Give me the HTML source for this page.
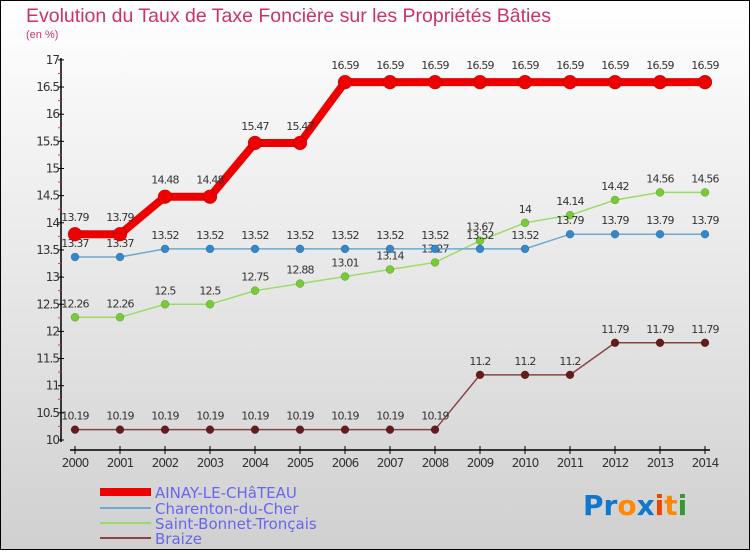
<!DOCTYPE html>
<html><head><meta charset="utf-8"><style>
body{margin:0;width:750px;height:550px;overflow:hidden;font-family:"DejaVu Sans","Liberation Sans",sans-serif}
</style></head><body>
<svg id="c" width="750" height="550" xmlns="http://www.w3.org/2000/svg">
<defs><linearGradient id="bg" x1="0" y1="0" x2="0" y2="1"><stop offset="0" stop-color="#ffffff"/><stop offset="1" stop-color="#d0d0d0"/></linearGradient></defs>
<rect x="0" y="0" width="750" height="550" fill="url(#bg)" stroke="#000" stroke-width="2"/>
<text x="26" y="22" font-size="19.5" fill="#cc3366" font-family="Liberation Sans, sans-serif">Evolution du Taux de Taxe Foncière sur les Propriétés Bâties</text>
<text x="26" y="38" font-size="11" fill="#cc3366" font-family="Liberation Sans, sans-serif">(en %)</text>
<g id="axes"></g><g id="series"></g>
<g font-size="15" fill="#6666ee">
<rect x="100" y="488" width="51" height="8" fill="#ee0000"/>
<text x="155" y="498">AINAY-LE-CHâTEAU</text>
<rect x="100" y="507" width="51" height="2" fill="#6fa8d0"/>
<text x="155" y="514">Charenton-du-Cher</text>
<rect x="100" y="522" width="51" height="2" fill="#99dd66"/>
<text x="155" y="529">Saint-Bonnet-Tronçais</text>
<rect x="100" y="537" width="51" height="2" fill="#884444"/>
<text x="155" y="544">Braize</text>
</g>
<g font-size="28" font-family="DejaVu Sans" font-weight="bold">
<text x="583" y="515"><tspan fill="#1177cc">Pr</tspan><tspan fill="#ff8800">o</tspan><tspan fill="#1177cc">x</tspan><tspan fill="#ee4400">i</tspan><tspan fill="#ff8800">t</tspan><tspan fill="#339933">i</tspan></text>
</g>
</svg>
<script>
const years=[2000,2001,2002,2003,2004,2005,2006,2007,2008,2009,2010,2011,2012,2013,2014];
const ainay=[13.79,13.79,14.48,14.48,15.47,15.47,16.59,16.59,16.59,16.59,16.59,16.59,16.59,16.59,16.59];
const charenton=[13.37,13.37,13.52,13.52,13.52,13.52,13.52,13.52,13.52,13.52,13.52,13.79,13.79,13.79,13.79];
const saintBonnet=[12.26,12.26,12.5,12.5,12.75,12.88,13.01,13.14,13.27,13.67,14,14.14,14.42,14.56,14.56];
const braize=[10.19,10.19,10.19,10.19,10.19,10.19,10.19,10.19,10.19,11.2,11.2,11.2,11.79,11.79,11.79];
const yTicks=[10,10.5,11,11.5,12,12.5,13,13.5,14,14.5,15,15.5,16,16.5,17];
const NS='http://www.w3.org/2000/svg';
const xs=i=>75+i*45, ys=v=>440-(v-10)*54.3;
function mk(t,a,p){const e=document.createElementNS(NS,t);for(const k in a)e.setAttribute(k,a[k]);p.appendChild(e);return e;}
const ax=document.getElementById('axes');
const yl=mk('line',{x1:61,y1:58,x2:61,y2:442,stroke:'#000','stroke-width':1.5},ax);


yTicks.forEach(v=>{
 mk('line',{x1:58,y1:ys(v),x2:64,y2:ys(v),stroke:'#000'},ax);
 if(v<17)mk('line',{x1:58,y1:ys(v+0.25),x2:61,y2:ys(v+0.25),stroke:'#e33'},ax);
 const t=mk('text',{x:59,y:ys(v)+4,'text-anchor':'end','font-size':12,fill:'#333','letter-spacing':'-1'},ax);
 
 
 t.textContent=v;
});
const xl=mk('line',{x1:70,y1:450,x2:710,y2:450,stroke:'#000','stroke-width':1.5},ax);


years.forEach((y,i)=>{
 mk('line',{x1:xs(i),y1:446,x2:xs(i),y2:454,stroke:'#000'},ax);
 const t=mk('text',{x:xs(i),y:467,'text-anchor':'middle','font-size':12,fill:'#333','letter-spacing':'-1'},ax);
 
 
 t.textContent=y;
});
const sg=document.getElementById('series');
function draw(name,data,color,w,r,dot){
 const g=mk('g',{},sg);
 
 
 let d='';data.forEach((v,i)=>{d+=(i?'L':'M')+xs(i)+','+ys(v);});
 mk('path',{d:d,fill:'none',stroke:color,'stroke-width':w},g);
 data.forEach((v,i)=>{
  const c=mk('circle',{cx:xs(i),cy:ys(v),r:r,fill:dot,stroke:'rgba(0,0,0,0.3)','stroke-width':0.5},g);
  
  
  const t=mk('text',{x:xs(i),y:ys(v)-(r+6),'text-anchor':'middle','font-size':11,fill:'#333','letter-spacing':'-0.8'},g);
  
  
  t.textContent=v;
 });
}
draw('braize',braize,'#884444',1.5,4,'#661a1a');
draw('saint-bonnet',saintBonnet,'#99dd66',1.5,4,'#77cc33');
draw('charenton',charenton,'#6fa8d0',1.5,4,'#3388cc');
draw('ainay',ainay,'#ee0000',8,7,'#ee0000');
</script>
</body></html>
